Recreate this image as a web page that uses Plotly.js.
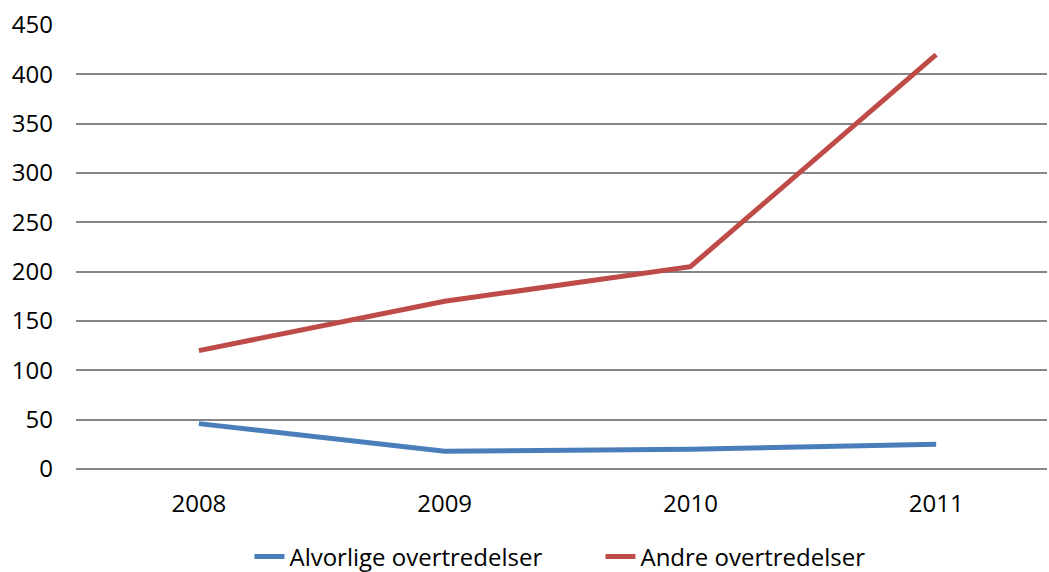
<!DOCTYPE html>
<html><head><meta charset="utf-8">
<script src="https://cdn.plot.ly/plotly-3.0.1.min.js"></script>
<style>body{margin:0;background:#fff}#c{width:1049px;height:572px}</style>
</head><body><div id="c"></div>
<script>
var years = ['2008', '2009', '2010', '2011'];
var alvorlige = [46, 18, 20, 25];
var andre = [120, 170, 205, 420];
var yTicks = [0, 50, 100, 150, 200, 250, 300, 350, 400, 450];

var font = {family: 'Open Sans, Noto Sans, sans-serif', size: 24, color: '#000'};
var traces = [
  {x: years, y: alvorlige, type: 'scatter', mode: 'lines', name: 'Alvorlige overtredelser',
   line: {color: '#4a7ebb', width: 5}},
  {x: years, y: andre, type: 'scatter', mode: 'lines', name: 'Andre overtredelser',
   line: {color: '#be4b48', width: 5}}
];
var layout = {
  width: 1049, height: 572,
  margin: {l: 76, r: 2, t: 25, b: 103, autoexpand: false},
  paper_bgcolor: '#fff', plot_bgcolor: '#fff',
  font: font,
  showlegend: true,
  legend: {orientation: 'h', xref: 'container', yref: 'paper', x: 0.2378, xanchor: 'left',
           y: -0.198, yanchor: 'middle', font: font, itemwidth: 30, entrywidth: 306, entrywidthmode: 'pixels'},
  xaxis: {type: 'category', range: [-0.5, 3.451], showgrid: false, zeroline: false,
          showline: false, ticks: '', tickfont: font, ticklabelstandoff: 18},
  yaxis: {range: [0, 450], tickvals: yTicks, showgrid: true, gridcolor: '#868686', gridwidth: 2,
          zeroline: true, zerolinecolor: '#868686', zerolinewidth: 2,
          showline: false, ticks: '', tickfont: font, ticklabelstandoff: 22,
          fixedrange: true}
};
Plotly.newPlot('c', traces, layout, {displayModeBar: false, staticPlot: true});
</script></body></html>
